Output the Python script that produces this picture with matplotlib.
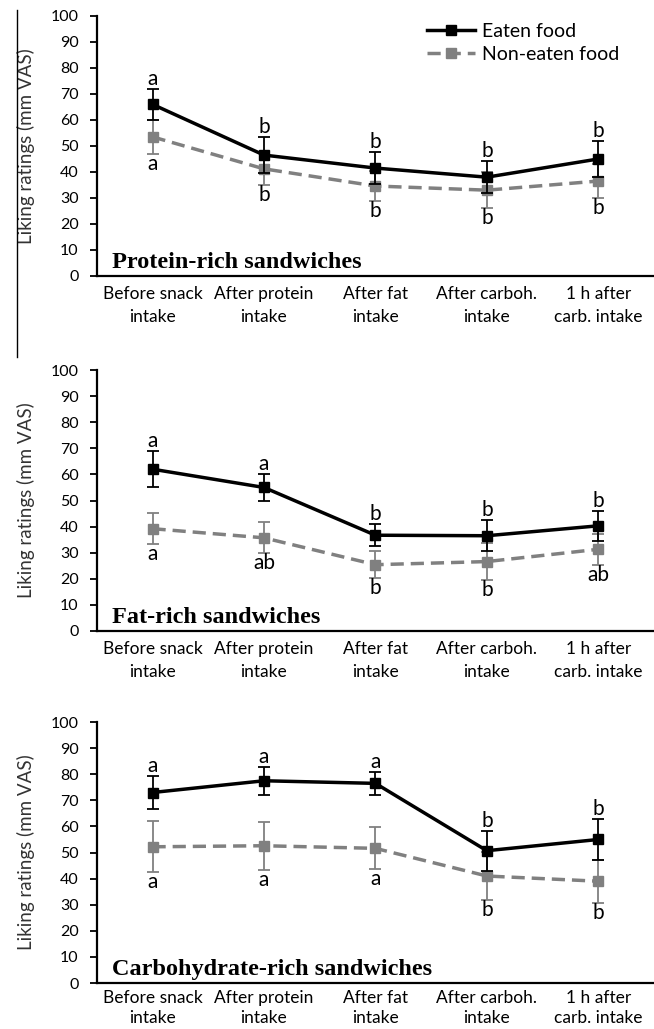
import numpy as np
import matplotlib.pyplot as plt
from matplotlib.lines import Line2D

# --- Dados (mm VAS) ---
categories = ['Before snack\nintake', 'After protein\nintake', 'After fat\nintake',
              'After carboh.\nintake', '1 h after\ncarb. intake']
panel_titles = ['Protein-rich sandwiches', 'Fat-rich sandwiches', 'Carbohydrate-rich sandwiches']

eaten_mean = [[66, 46.5, 41.5, 38, 45],
              [62, 55, 36.7, 36.5, 40.3],
              [73, 77.5, 76.5, 50.7, 55]]
eaten_err = [[6, 6.8, 6, 6.2, 7],
             [7, 5, 4.3, 6, 5.8],
             [6.3, 5.4, 4.3, 7.7, 8]]
eaten_letters = [['a', 'b', 'b', 'b', 'b'],
                 ['a', 'a', 'b', 'b', 'b'],
                 ['a', 'a', 'a', 'b', 'b']]

noneaten_mean = [[53.5, 41.2, 34.6, 33, 36.5],
                 [39.2, 35.7, 25.4, 26.6, 31.3],
                 [52.2, 52.6, 51.6, 41, 39]]
noneaten_err = [[6.5, 6.4, 5.8, 7, 6.6],
                [6, 6, 5.1, 7.2, 6],
                [9.7, 9.2, 8, 9.1, 8.3]]
noneaten_letters = [['a', 'b', 'b', 'b', 'b'],
                    ['a', 'ab', 'b', 'b', 'ab'],
                    ['a', 'a', 'a', 'b', 'b']]

# --- Estilo ---
plt.rcParams['font.family'] = ['Lato', 'DejaVu Sans']
gray = '#808080'
dash = (0, (3.8, 2))
x = np.arange(len(categories))

fig = plt.figure(figsize=(6.54, 10.29), dpi=100)
# posições dos painéis (left, bottom, width, height)
boxes = [[0.148, 0.7318, 0.852, 0.2527],
         [0.148, 0.3868, 0.852, 0.2536],
         [0.148, 0.0447, 0.852, 0.2536]]

for k in range(3):
    ax = fig.add_axes(boxes[k])
    ax.errorbar(x, noneaten_mean[k], yerr=noneaten_err[k], color=gray, lw=2.5,
                ls=dash, marker='s', ms=7, mfc=gray, mec=gray,
                ecolor=gray, elinewidth=1.3, capsize=4, capthick=1.3, zorder=2)
    ax.errorbar(x, eaten_mean[k], yerr=eaten_err[k], color='black', lw=2.5,
                marker='s', ms=7, ecolor='black', elinewidth=1.3,
                capsize=4, capthick=1.3, zorder=3)

    # letras de significância
    for i in range(len(x)):
        ax.annotate(eaten_letters[k][i], (x[i], eaten_mean[k][i] + eaten_err[k][i]),
                    xytext=(0, 0), textcoords='offset points', ha='center', va='bottom',
                    fontsize=15)
        ax.annotate(noneaten_letters[k][i], (x[i], noneaten_mean[k][i] - noneaten_err[k][i]),
                    xytext=(0, 0), textcoords='offset points', ha='center', va='top',
                    fontsize=15)

    ax.text(0.027, 0.03, panel_titles[k], transform=ax.transAxes, ha='left', va='baseline',
            family='Liberation Serif', fontweight='bold', fontsize=17.5)

    ax.set_xlim(-0.5, 4.5)
    ax.set_ylim(0, 100)
    ax.set_yticks(range(0, 101, 10))
    ax.set_xticks(x)
    # último painel um pouco mais compacto para caber na figura
    if k < 2:
        ax.set_xticklabels(categories, fontsize=12.5, linespacing=1.55)
        ax.tick_params(axis='x', length=0, pad=7)
    else:
        ax.set_xticklabels(categories, fontsize=12.5, linespacing=1.3)
        ax.tick_params(axis='x', length=0, pad=5)
    ax.tick_params(axis='y', length=5, width=1.3, labelsize=11.5, pad=8)
    ax.set_ylabel('Liking ratings (mm VAS)', fontsize=13.5, color='#333333')
    ax.yaxis.set_label_coords(-0.111, 0.5)
    for s in ['top', 'right']:
        ax.spines[s].set_visible(False)
    for s in ['left', 'bottom']:
        ax.spines[s].set_linewidth(1.6)

    if k == 0:
        handles = [Line2D([], [], color='black', lw=2.5, marker='s', ms=7),
                   Line2D([], [], color=gray, lw=2.5, ls=dash, marker='s', ms=7)]
        ax.legend(handles, ['Eaten food', 'Non-eaten food'], loc='upper left',
                  bbox_to_anchor=(0.592, 0.973), frameon=False, fontsize=14,
                  borderpad=0, borderaxespad=0,
                  handlelength=2.5, handletextpad=0.35, labelspacing=0.3)

# linha vertical da borda à esquerda (artefato do recorte original)
fig.add_artist(Line2D([0.026, 0.026], [1 - 10 / 1029, 1 - 357 / 1029],
                      transform=fig.transFigure, color='black', lw=1))

fig.savefig('out.png', dpi=100)
